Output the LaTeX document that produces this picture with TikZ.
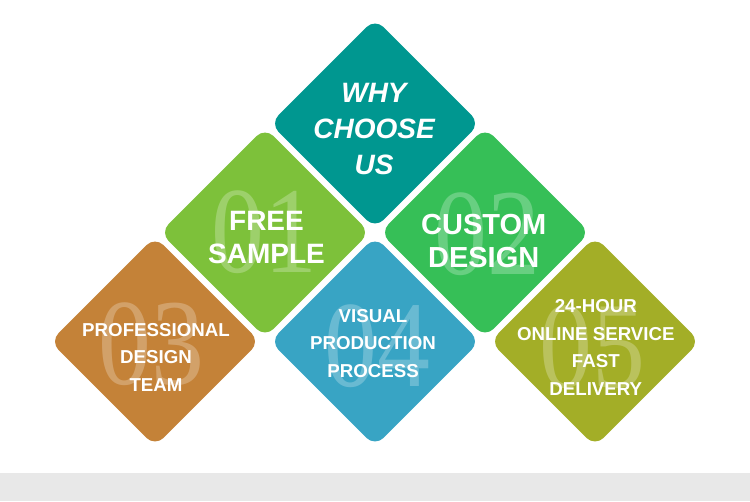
\documentclass[tikz,border=0pt]{standalone}
\usepackage{fontspec}
\setmainfont{Liberation Sans}
\newfontfamily\numfont{Liberation Serif}
\usetikzlibrary{shapes.geometric}
\definecolor{cteal}{RGB}{0,151,144}
\definecolor{cgreenA}{RGB}{125,193,58}
\definecolor{cgreenB}{RGB}{54,191,87}
\definecolor{cbrown}{RGB}{196,130,56}
\definecolor{cblue}{RGB}{56,164,196}
\definecolor{colive}{RGB}{163,174,39}
\definecolor{cgray}{RGB}{232,232,232}
\tikzset{
  tile/.style={shape=diamond, minimum width=210pt, minimum height=210pt, inner sep=0pt, rounded corners=12pt, fill=#1},
  bignum/.style={inner sep=0pt, text=white, text opacity=0.25, font=\numfont\fontsize{123}{123}\selectfont},
  bigtxt/.style={inner sep=0pt, text=white, align=center, font=\bfseries\fontsize{28}{32.5}\selectfont},
  smalltxt/.style={inner sep=0pt, text=white, align=center, font=\bfseries\fontsize{18.7}{27.5}\selectfont}
}
\begin{document}
\begin{tikzpicture}[x=1pt,y=-1pt]
\useasboundingbox (0,0) rectangle (750,501);
\fill[cgray] (0,473) rectangle (750,501);
% tiles
\node[tile=cteal]   (why) at (375,123.5) {};
\node[tile=cgreenA] (d01) at (265,232.5) {};
\node[tile=cgreenB] (d02) at (485,232.5) {};
\node[tile=cbrown]  (d03) at (155,341.5) {};
\node[tile=cblue]   (d04) at (375,341.5) {};
\node[tile=colive]  (d05) at (595,341.5) {};
% numbers
\node[bignum] (n01) at (264,232) {\scalebox{0.86}[1]{01}};
\node[bignum] (n02) at (487,234) {\scalebox{0.86}[1]{02}};
\node[bignum] (n03) at (151,344) {\scalebox{0.86}[1]{03}};
\node[bignum] (n04) at (377,346) {\scalebox{0.86}[1]{04}};
\node[bignum] (n05) at (592,347) {\scalebox{0.86}[1]{05}};
% texts
\node[bigtxt, font=\bfseries\itshape\fontsize{28}{36}\selectfont] (twhy) at (374,129) {WHY\\CHOOSE\\US};
\node[bigtxt] (t01) at (266.5,237.5) {FREE\\SAMPLE};
\node[bigtxt, font=\bfseries\fontsize{29}{33.5}\selectfont] (t02) at (483.7,241) {CUSTOM\\DESIGN};
\node[smalltxt] (t03) at (156,357) {PROFESSIONAL\\DESIGN\\TEAM};
\node[smalltxt] (t04) at (373,343.5) {VISUAL\\PRODUCTION\\PROCESS};
\node[smalltxt] (t05) at (595.8,347.5) {24-HOUR\\ONLINE SERVICE\\FAST\\DELIVERY};
\end{tikzpicture}
\end{document}
